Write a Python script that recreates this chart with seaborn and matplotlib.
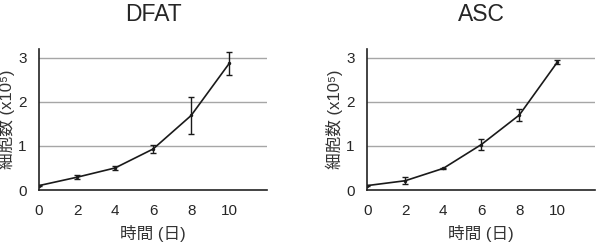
import matplotlib
matplotlib.use("Agg")
import matplotlib.pyplot as plt
import seaborn as sns
import pandas as pd

days = [0, 2, 4, 6, 8, 10]
dfat_mean = [0.10, 0.29, 0.50, 0.93, 1.69, 2.87]
dfat_err = [0.02, 0.05, 0.05, 0.08, 0.41, 0.27]
asc_mean = [0.10, 0.21, 0.49, 1.03, 1.70, 2.90]
asc_err = [0.02, 0.08, 0.02, 0.13, 0.14, 0.05]
titles = ["DFAT", "ASC"]
x_ticks = [0, 2, 4, 6, 8, 10]
y_ticks = [0, 1, 2, 3]
xlabel = "時間 (日)"
ylabel = "細胞数 (x10⁵)"

sns.set_style("white")
plt.rcParams['font.family'] = ['Liberation Sans', 'Noto Sans CJK JP', 'DejaVu Sans']

fig = plt.figure(figsize=(5.96, 2.52), dpi=100)
positions = [[0.0654, 0.246, 0.383, 0.56], [0.616, 0.246, 0.383, 0.56]]

for pos, title, mean, err in zip(positions, titles, [dfat_mean, asc_mean], [dfat_err, asc_err]):
    ax = fig.add_axes(pos)
    df = pd.DataFrame({"day": days, "count": mean})
    for yv in y_ticks[1:]:
        ax.axhline(yv, color="#a6a6a6", lw=1.0, zorder=0)
    sns.lineplot(data=df, x="day", y="count", ax=ax, color="#1a1a1a", lw=1.2,
                 marker="o", markersize=2.5, markeredgewidth=0)
    ax.errorbar(days, mean, yerr=err, fmt="none", ecolor="#1a1a1a",
                elinewidth=1.0, capsize=2, capthick=1.0)
    ax.set_xlim(0, 12)
    ax.set_ylim(0, 3.2)
    ax.set_xticks(x_ticks)
    ax.set_yticks(y_ticks)
    ax.tick_params(axis="x", labelsize=11, length=0, pad=10)
    ax.tick_params(axis="y", labelsize=11, length=3, width=1.0, color="#888888", pad=6)
    for s in ["top", "right"]:
        ax.spines[s].set_visible(False)
    for s in ["left", "bottom"]:
        ax.spines[s].set_color("#222222")
        ax.spines[s].set_linewidth(1.2)
    ax.set_xlabel(xlabel, fontsize=12, color="#333333", labelpad=5)
    ax.set_ylabel(ylabel, fontsize=12, color="#333333", labelpad=2)
    ax.set_title(title, fontsize=16.5, pad=20)
    ax.grid(False)

fig.savefig("out.png", dpi=100)
